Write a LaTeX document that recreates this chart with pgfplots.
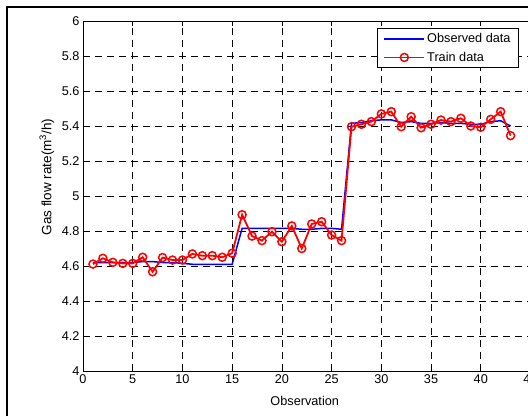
\documentclass[border=0pt]{standalone}
\usepackage{fontspec}
\setmainfont{Liberation Sans}
\usepackage{pgfplots}
\pgfplotsset{compat=1.18}
\begin{document}
\begin{tikzpicture}[x=1pt,y=1pt]
\path[use as bounding box] (0,0) rectangle (528,416);
\clip (0,0) rectangle (528,416);
\draw[line width=2pt,black] (7,0) -- (7,408.7) -- (528,408.7);
\begin{axis}[
  at={(83pt,45pt)}, anchor=south west,
  scale only axis, width=462.4pt, height=350pt,
  xmin=0, xmax=46.5, ymin=4, ymax=6,
  xtick={0,5,10,15,20,25,30,35,40},
  extra x ticks={45},
  extra x tick style={grid=none},
  ytick={4,4.2,4.4,4.6,4.8,5,5.2,5.4,5.6,5.8,6},
  tick align=inside, major tick length=5pt,
  tick style={black, line width=0.6pt},
  axis line style={black, line width=0.9pt},
  grid=major,
  major grid style={black, line width=0.6pt, dash pattern=on 7pt off 5pt},
  /pgf/number format/assume math mode=true,
  tick label style={font=\fontsize{12.7}{14}\selectfont, black},
  xlabel={Observation},
  ylabel={Gas flow rate(m\textsuperscript{3}/h)},
  xlabel style={font=\fontsize{12.7}{14}\selectfont, at={(rel axis cs:0.4795,0)}, anchor=center, yshift=-30pt},
  ylabel style={font=\fontsize{13.5}{15}\selectfont, at={(axis description cs:-0.0782,0.554)}, anchor=center},
  legend style={at={(rel axis cs:0.9676,1)}, anchor=north east, xshift=-11.5pt, yshift=-7pt,
    draw=black, line width=0.8pt, font=\fontsize{12.7}{14}\selectfont,
    inner xsep=6pt, inner ysep=3pt, row sep=4pt, cells={anchor=west}},
  legend cell align=left,
  legend image code/.code={
    \draw[mark repeat=2,mark phase=2,#1] plot coordinates {(0pt,0pt) (20pt,0pt) (40pt,0pt)};
  },
]
\addplot[blue, line width=1.5pt, mark=none] coordinates {
(1,4.62) (2,4.62) (3,4.62) (4,4.62) (5,4.62) (6,4.625) (7,4.625) (8,4.62) (9,4.62) (10,4.615)
(11,4.61) (12,4.61) (13,4.61) (14,4.61) (15,4.61) (16,4.815) (17,4.815) (18,4.815) (19,4.815) (20,4.815)
(21,4.815) (22,4.81) (23,4.81) (24,4.815) (25,4.815) (26,4.81) (27,5.415) (28,5.42) (29,5.43) (30,5.435)
(31,5.435) (32,5.42) (33,5.425) (34,5.415) (35,5.415) (36,5.42) (37,5.415) (38,5.415) (39,5.41) (40,5.41)
(41,5.425) (42,5.43) (43,5.40)
};
\addlegendentry{Observed data}
\addplot[red, line width=1.8pt, mark=o, mark size=4pt, mark options={solid, line width=1.5pt, fill=none}] coordinates {
(1,4.611) (2,4.644) (3,4.621) (4,4.615) (5,4.615) (6,4.65) (7,4.567) (8,4.648) (9,4.634) (10,4.634)
(11,4.669) (12,4.659) (13,4.659) (14,4.65) (15,4.673) (16,4.893) (17,4.771) (18,4.745) (19,4.796) (20,4.739)
(21,4.829) (22,4.70) (23,4.84) (24,4.853) (25,4.777) (26,4.745) (27,5.396) (28,5.41) (29,5.425) (30,5.469)
(31,5.482) (32,5.396) (33,5.453) (34,5.39) (35,5.41) (36,5.434) (37,5.425) (38,5.444) (39,5.40) (40,5.393)
(41,5.438) (42,5.482) (43,5.345)
};
\addlegendentry{Train data}
\end{axis}
\end{tikzpicture}
\end{document}
